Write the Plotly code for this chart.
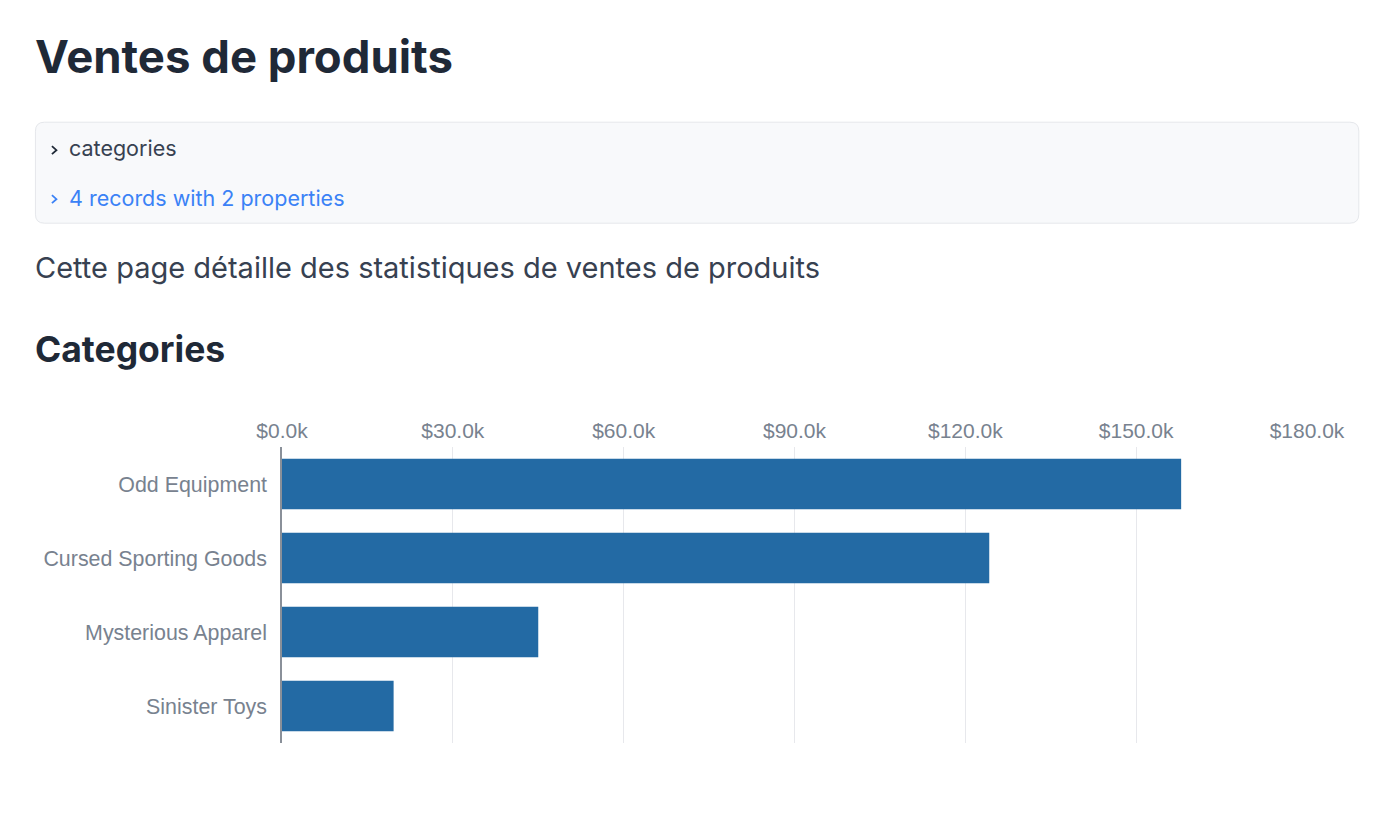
import plotly.graph_objects as go

# ── Data ───────────────────────────────────────────────────────────────────────
categories = ["Odd Equipment", "Cursed Sporting Goods", "Mysterious Apparel", "Sinister Toys"]
sales = [157900, 124200, 45000, 19600]
tick_vals = [0, 30000, 60000, 90000, 120000, 150000, 180000]
tick_text = ["$0.0k", "$30.0k", "$60.0k", "$90.0k", "$120.0k", "$150.0k", "$180.0k"]

PAGE_TITLE = "Ventes de produits"
DETAIL_LABEL = "categories"
DETAIL_LINK = "4 records with 2 properties"
INTRO = "Cette page détaille des statistiques de ventes de produits"
SECTION = "Categories"

# ── Page geometry (viewport px; the body has an 8px margin) ────────────────────
OFF = 8
W, H = 1382, 802
PL, PR, PT, PB = 282, 1306.7, 447.3, 743.3   # plot area in viewport px

TEXT_DARK = "#1f2937"
TEXT_BODY = "#374151"
LINK_BLUE = "#3b82f6"
AXIS_GREY = "#78828f"
BAR_BLUE = "#236aa4"


def fx(vx):
    return (vx - PL) / (PR - PL)


def fy(vy):
    return 1 - (vy - PT) / (PB - PT)


def text(fig, s, vx, vy, size, color, bold=False):
    fig.add_annotation(
        text=f"<b>{s}</b>" if bold else s, x=fx(vx), y=fy(vy),
        xref="paper", yref="paper", xanchor="left", yanchor="middle",
        showarrow=False, borderpad=0,
        font=dict(family="Inter", size=size, color=color),
    )


def chevron(fig, cx, cy, color):
    path = (f"M {fx(cx - 2.5)} {fy(cy - 4)} L {fx(cx + 2)} {fy(cy)} "
            f"L {fx(cx - 2.5)} {fy(cy + 4)}")
    fig.add_shape(type="path", path=path, xref="paper", yref="paper",
                  line=dict(color=color, width=1.8))


def round_box(fig, x0, y0, x1, y1, r):
    p = [
        f"M {fx(x0 + r)} {fy(y0)}",
        f"L {fx(x1 - r)} {fy(y0)}",
        f"Q {fx(x1)} {fy(y0)} {fx(x1)} {fy(y0 + r)}",
        f"L {fx(x1)} {fy(y1 - r)}",
        f"Q {fx(x1)} {fy(y1)} {fx(x1 - r)} {fy(y1)}",
        f"L {fx(x0 + r)} {fy(y1)}",
        f"Q {fx(x0)} {fy(y1)} {fx(x0)} {fy(y1 - r)}",
        f"L {fx(x0)} {fy(y0 + r)}",
        f"Q {fx(x0)} {fy(y0)} {fx(x0 + r)} {fy(y0)} Z",
    ]
    fig.add_shape(type="path", path=" ".join(p), xref="paper", yref="paper",
                  fillcolor="#f8f9fb", line=dict(color="#e5e7eb", width=1),
                  layer="below")


# ── Figure ─────────────────────────────────────────────────────────────────────
fig = go.Figure(go.Bar(
    x=sales, y=categories, orientation="h",
    marker=dict(color=BAR_BLUE, line=dict(width=0)),
    hovertemplate="%{y}: $%{x:,.0f}<extra></extra>",
))

fig.update_layout(
    width=W, height=H,
    margin=dict(l=PL - OFF, r=W - (PR - OFF), t=PT - OFF, b=H - (PB - OFF)),
    paper_bgcolor="white", plot_bgcolor="white",
    bargap=0.32, showlegend=False,
    font=dict(family="Liberation Sans, Arial, sans-serif", size=21, color=AXIS_GREY),
)
fig.update_xaxes(
    side="top", range=[0, 180000], tickvals=tick_vals, ticktext=tick_text,
    showgrid=True, gridcolor="#e7e8ec", gridwidth=1.2, zeroline=False,
    showline=False, ticks="", ticklabelstandoff=4, fixedrange=True,
)
fig.update_yaxes(
    categoryorder="array", categoryarray=categories, autorange="reversed",
    showgrid=False, zeroline=False, showline=True, linecolor="#8a9099",
    linewidth=1.5, ticks="", ticklabelstandoff=9, fixedrange=True,
    tickfont=dict(size=21.4),
)

# page chrome around the chart
text(fig, PAGE_TITLE, 34, 57, 45.5, TEXT_DARK, bold=True)
round_box(fig, 35.5, 122.5, 1358.5, 223.5, 9)
chevron(fig, 54.5, 150.5, TEXT_DARK)
text(fig, DETAIL_LABEL, 68, 148, 21.5, TEXT_BODY)
chevron(fig, 54.5, 199.5, LINK_BLUE)
text(fig, DETAIL_LINK, 68, 198, 21.5, LINK_BLUE)
text(fig, INTRO, 34, 268, 29, TEXT_BODY)
text(fig, SECTION, 34, 350, 35.5, TEXT_DARK, bold=True)

fig.write_html("out.html")
